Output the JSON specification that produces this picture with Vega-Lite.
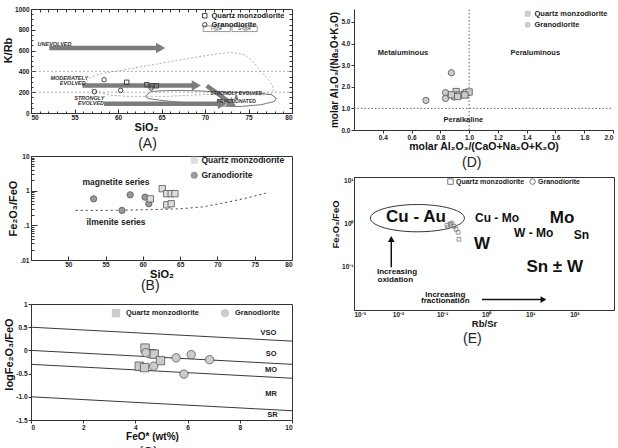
{
  "$schema": "https://vega.github.io/schema/vega-lite/v6.json",
  "padding": {"left": 2, "top": 5, "right": 2, "bottom": 0},
  "spacing": 36,
  "resolve": {"scale": {"shape": "independent", "fill": "independent"}},
  "datasets": {
    "ptsA": [
      {"x": 61.0, "y": 295, "rock": "Quartz monzodiorite"},
      {"x": 63.3, "y": 272, "rock": "Quartz monzodiorite"},
      {"x": 63.9, "y": 262, "rock": "Quartz monzodiorite"},
      {"x": 64.4, "y": 262, "rock": "Quartz monzodiorite"},
      {"x": 58.4, "y": 320, "rock": "Granodiorite"},
      {"x": 57.3, "y": 205, "rock": "Granodiorite"},
      {"x": 60.3, "y": 217, "rock": "Granodiorite"},
      {"x": 63.8, "y": 240, "rock": "Granodiorite"}
    ],
    "levelsA": [{"x": 50, "x2": 80, "y": 200}, {"x": 50, "x2": 80, "y": 400}],
    "fieldS": [
      {"i": 1, "x": 56.44, "y": 304}, {"i": 2, "x": 56.9, "y": 346}, {"i": 3, "x": 58.05, "y": 378},
      {"i": 4, "x": 61.89, "y": 432}, {"i": 5, "x": 65.72, "y": 490}, {"i": 6, "x": 69.56, "y": 545},
      {"i": 7, "x": 71.48, "y": 570}, {"i": 8, "x": 73.02, "y": 583}, {"i": 9, "x": 74.55, "y": 561},
      {"i": 10, "x": 75.32, "y": 512}, {"i": 11, "x": 76.47, "y": 400}, {"i": 12, "x": 77.43, "y": 304},
      {"i": 13, "x": 77.93, "y": 230}, {"i": 14, "x": 77.7, "y": 186}, {"i": 15, "x": 76.47, "y": 173},
      {"i": 16, "x": 73.4, "y": 186}, {"i": 17, "x": 69.56, "y": 176}, {"i": 18, "x": 65.72, "y": 160},
      {"i": 19, "x": 63.03, "y": 160}, {"i": 20, "x": 61.11, "y": 160}, {"i": 21, "x": 59.2, "y": 170},
      {"i": 22, "x": 57.67, "y": 198}, {"i": 23, "x": 56.6, "y": 256}, {"i": 24, "x": 56.44, "y": 304}
    ],
    "fieldI": [
      {"i": 1, "x": 63.12, "y": 160}, {"i": 2, "x": 63.6, "y": 192}, {"i": 3, "x": 63.81, "y": 208},
      {"i": 4, "x": 65.5, "y": 215}, {"i": 5, "x": 67.26, "y": 217}, {"i": 6, "x": 69.5, "y": 212},
      {"i": 7, "x": 71.48, "y": 202}, {"i": 8, "x": 74.0, "y": 196}, {"i": 9, "x": 76.09, "y": 192},
      {"i": 10, "x": 77.62, "y": 176}, {"i": 11, "x": 78.19, "y": 144}, {"i": 12, "x": 78.0, "y": 112},
      {"i": 13, "x": 76.47, "y": 80}, {"i": 14, "x": 74.17, "y": 63}, {"i": 15, "x": 73.0, "y": 63},
      {"i": 16, "x": 71.48, "y": 70}, {"i": 17, "x": 68.03, "y": 96}, {"i": 18, "x": 64.96, "y": 121},
      {"i": 19, "x": 63.43, "y": 140}, {"i": 20, "x": 63.12, "y": 160}
    ],
    "arrowsA": [
      {"x": 52.1, "y": 625, "x2": 64.9, "y2": 625},
      {"x": 55.9, "y": 265, "x2": 69.0, "y2": 265},
      {"x": 58.4, "y": 89, "x2": 72.0, "y2": 89}
    ],
    "headsA": [{"x": 64.9, "y": 625}, {"x": 69.0, "y": 265}, {"x": 72.0, "y": 89}],
    "diagA": [{"x": 70.2, "y": 262, "x2": 73.13, "y2": 86}],
    "diagHeadA": [{"x": 73.13, "y": 86}],
    "labA": [
      {"x": 52.7, "y": 660, "t": "UNEVOLVED"},
      {"x": 54.4, "y": 335, "t": "MODERATELY"},
      {"x": 54.8, "y": 290, "t": "EVOLVED"},
      {"x": 56.7, "y": 142, "t": "STRONGLY"},
      {"x": 56.9, "y": 100, "t": "EVOLVED"}
    ],
    "labA2": [
      {"x": 73.6, "y": 190, "t": "STRONGLY EVOLVED"},
      {"x": 73.6, "y": 150, "t": "&"},
      {"x": 73.6, "y": 112, "t": "FRACTIONATED"}
    ],
    "typeBoxA": [{"x": 69.8, "x2": 72.9, "y": 783, "y2": 837}, {"x": 73.1, "x2": 76.0, "y": 783, "y2": 837}],
    "typeTextA": [{"x": 71.35, "y": 810, "t": "I-type"}, {"x": 74.55, "y": 810, "t": "S-type"}],
    "ptsB": [
      {"x": 53.4, "y": 0.58, "rock": "Granodiorite"},
      {"x": 58.3, "y": 0.76, "rock": "Granodiorite"},
      {"x": 57.2, "y": 0.27, "rock": "Granodiorite"},
      {"x": 60.3, "y": 0.65, "rock": "Granodiorite"},
      {"x": 60.8, "y": 0.42, "rock": "Granodiorite"},
      {"x": 61.0, "y": 0.58, "rock": "Quartz monzodiorite"},
      {"x": 62.6, "y": 1.14, "rock": "Quartz monzodiorite"},
      {"x": 63.2, "y": 0.82, "rock": "Quartz monzodiorite"},
      {"x": 63.8, "y": 0.82, "rock": "Quartz monzodiorite"},
      {"x": 64.3, "y": 0.82, "rock": "Quartz monzodiorite"},
      {"x": 63.2, "y": 0.39, "rock": "Quartz monzodiorite"},
      {"x": 63.8, "y": 0.42, "rock": "Quartz monzodiorite"}
    ],
    "curveB": [
      {"i": 1, "x": 51, "y": 0.27}, {"i": 2, "x": 55, "y": 0.27}, {"i": 3, "x": 60, "y": 0.28},
      {"i": 4, "x": 65, "y": 0.3}, {"i": 5, "x": 68, "y": 0.34}, {"i": 6, "x": 71, "y": 0.45},
      {"i": 7, "x": 74, "y": 0.62}, {"i": 8, "x": 76.5, "y": 0.85}
    ],
    "labB": [{"x": 56.4, "y": 1.74, "t": "magnetite series"}, {"x": 56.4, "y": 0.127, "t": "ilmenite series"}],
    "ptsC": [
      {"x": 4.37, "y": 0.05, "rock": "Quartz monzodiorite"},
      {"x": 4.63, "y": -0.07, "rock": "Quartz monzodiorite"},
      {"x": 4.72, "y": -0.08, "rock": "Quartz monzodiorite"},
      {"x": 4.96, "y": -0.22, "rock": "Quartz monzodiorite"},
      {"x": 4.15, "y": -0.34, "rock": "Quartz monzodiorite"},
      {"x": 4.35, "y": -0.37, "rock": "Quartz monzodiorite"},
      {"x": 4.4, "y": -0.05, "rock": "Granodiorite"},
      {"x": 4.7, "y": -0.34, "rock": "Granodiorite"},
      {"x": 5.56, "y": -0.16, "rock": "Granodiorite"},
      {"x": 6.14, "y": -0.09, "rock": "Granodiorite"},
      {"x": 6.84, "y": -0.2, "rock": "Granodiorite"},
      {"x": 5.86, "y": -0.51, "rock": "Granodiorite"}
    ],
    "linesC": [
      {"x": 0, "y": 0.5, "x2": 10, "y2": 0.2},
      {"x": 0, "y": 0, "x2": 10, "y2": -0.3},
      {"x": 0, "y": -0.3, "x2": 10, "y2": -0.6},
      {"x": 0, "y": -1, "x2": 10, "y2": -1.3}
    ],
    "labC": [
      {"x": 9.1, "y": 0.38, "t": "VSO"}, {"x": 9.2, "y": -0.07, "t": "SO"}, {"x": 9.2, "y": -0.43, "t": "MO"},
      {"x": 9.2, "y": -0.93, "t": "MR"}, {"x": 9.25, "y": -1.39, "t": "SR"}
    ],
    "ptsD": [
      {"x": 0.7, "y": 1.37, "rock": "Granodiorite"},
      {"x": 0.877, "y": 2.65, "rock": "Granodiorite"},
      {"x": 0.836, "y": 1.73, "rock": "Granodiorite"},
      {"x": 0.836, "y": 1.46, "rock": "Granodiorite"},
      {"x": 0.894, "y": 1.53, "rock": "Granodiorite"},
      {"x": 0.963, "y": 1.68, "rock": "Granodiorite"},
      {"x": 0.91, "y": 1.78, "rock": "Quartz monzodiorite"},
      {"x": 0.877, "y": 1.63, "rock": "Quartz monzodiorite"},
      {"x": 0.93, "y": 1.62, "rock": "Quartz monzodiorite"},
      {"x": 0.98, "y": 1.73, "rock": "Quartz monzodiorite"},
      {"x": 1.0, "y": 1.76, "rock": "Quartz monzodiorite"},
      {"x": 0.92, "y": 1.55, "rock": "Quartz monzodiorite"},
      {"x": 0.97, "y": 1.62, "rock": "Quartz monzodiorite"}
    ],
    "guidesD": [{"x": 1, "x2": 1, "y": 0, "y2": 5.6}, {"x": 0.2, "x2": 2.0, "y": 1, "y2": 1}],
    "labD": [
      {"x": 0.54, "y": 3.57, "t": "Metaluminous"},
      {"x": 1.46, "y": 3.57, "t": "Peraluminous"},
      {"x": 0.96, "y": 0.45, "t": "Peralkaline"}
    ],
    "ptsE": [
      {"x": 0.129, "y": 0.93, "rock": "Quartz monzodiorite"},
      {"x": 0.158, "y": 0.99, "rock": "Quartz monzodiorite"},
      {"x": 0.186, "y": 0.88, "rock": "Quartz monzodiorite"},
      {"x": 0.207, "y": 0.75, "rock": "Quartz monzodiorite"},
      {"x": 0.23, "y": 0.64, "rock": "Quartz monzodiorite"},
      {"x": 0.24, "y": 0.44, "rock": "Quartz monzodiorite"},
      {"x": 0.15, "y": 1.02, "rock": "Granodiorite"},
      {"x": 0.17, "y": 1.06, "rock": "Granodiorite"},
      {"x": 0.135, "y": 0.85, "rock": "Granodiorite"}
    ],
    "ellE": [{"x": 0.0275, "y": 1.36}],
    "bigE": [
      {"x": 0.0255, "y": 1.43, "t": "Cu - Au"},
      {"x": 52.5, "y": 1.38, "t": "Mo"},
      {"x": 0.8, "y": 0.343, "t": "W"},
      {"x": 35.8, "y": 0.0986, "t": "Sn ± W"}
    ],
    "midE": [
      {"x": 1.76, "y": 1.38, "t": "Cu - Mo"},
      {"x": 12, "y": 0.61, "t": "W - Mo"},
      {"x": 144, "y": 0.54, "t": "Sn"}
    ],
    "smallE": [
      {"x": 0.00946, "y": 0.0755, "t": "Increasing"},
      {"x": 0.00866, "y": 0.051, "t": "oxidation"},
      {"x": 0.118, "y": 0.0229, "t": "Increasing"},
      {"x": 0.118, "y": 0.016, "t": "fractionation"}
    ],
    "upE": [{"x": 0.00701, "y": 0.0986, "x2": 0.00701, "y2": 0.446}],
    "upHeadE": [{"x": 0.00701, "y": 0.446}],
    "rightE": [{"x": 0.8, "y": 0.0175, "x2": 19.9, "y2": 0.0175}],
    "rightHeadE": [{"x": 19.9, "y": 0.0175}]
  },
  "hconcat": [
    {
      "spacing": 1,
      "resolve": {"scale": {"shape": "independent", "fill": "independent"}},
      "vconcat": [
        {
          "width": 261, "height": 104,
          "title": {"text": "(A)"},
          "resolve": {"axis": {"x": "independent", "y": "independent"}},
          "layer": [
            {
              "encoding": {
                "x": {"field": "x", "type": "quantitative", "title": "SiO₂", "scale": {"domain": [50, 80], "nice": false, "zero": false}, "axis": {"values": [50, 55, 60, 65, 70, 75, 80], "tickSize": -4, "labelPadding": 5, "titleX": 115}},
                "y": {"field": "y", "type": "quantitative", "title": "K/Rb", "scale": {"domain": [0, 1000], "nice": false}, "axis": {"values": [0, 200, 400, 600, 800, 1000], "format": "d", "tickSize": -4, "labelPadding": 6, "titleY": 41}}
              },
              "layer": [
                {"data": {"name": "levelsA"}, "mark": {"type": "rule", "strokeDash": [2, 2], "color": "#999", "strokeWidth": 0.8}, "encoding": {"x2": {"field": "x2"}}},
                {"data": {"name": "fieldS"}, "mark": {"type": "line", "strokeDash": [2, 2], "color": "#999", "strokeWidth": 0.8}, "encoding": {"order": {"field": "i"}}},
                {"data": {"name": "fieldI"}, "mark": {"type": "line", "color": "#666", "strokeWidth": 0.9}, "encoding": {"order": {"field": "i"}}},
                {"data": {"name": "arrowsA"}, "mark": {"type": "rule", "color": "#7d7d7d", "strokeWidth": 4.5}, "encoding": {"x2": {"field": "x2"}, "y2": {"field": "y2"}}},
                {"data": {"name": "headsA"}, "mark": {"type": "point", "shape": "triangle-right", "filled": true, "color": "#7d7d7d", "size": 110, "opacity": 1}},
                {"data": {"name": "diagA"}, "mark": {"type": "rule", "color": "#7d7d7d", "strokeWidth": 4.5}, "encoding": {"x2": {"field": "x2"}, "y2": {"field": "y2"}}},
                {"data": {"name": "diagHeadA"}, "mark": {"type": "point", "shape": "triangle-right", "angle": 36, "filled": true, "color": "#7d7d7d", "size": 110, "opacity": 1}},
                {"data": {"name": "labA"}, "mark": {"type": "text", "fontSize": 5.5, "fontStyle": "italic", "fontWeight": "bold", "color": "#333"}, "encoding": {"text": {"field": "t"}}},
                {"data": {"name": "labA2"}, "mark": {"type": "text", "fontSize": 5, "fontWeight": "bold", "color": "#333"}, "encoding": {"text": {"field": "t"}}},
                {"data": {"name": "typeBoxA"}, "mark": {"type": "rect", "fill": null, "stroke": "#555", "strokeWidth": 0.6}, "encoding": {"x2": {"field": "x2"}, "y2": {"field": "y2"}}},
                {"data": {"name": "typeTextA"}, "mark": {"type": "text", "fontSize": 4.5, "fontWeight": "normal", "color": "#333"}, "encoding": {"text": {"field": "t"}}},
                {"data": {"name": "ptsA"}, "mark": {"type": "point", "filled": false, "color": "#444", "strokeWidth": 1, "size": 20, "opacity": 1},
                 "encoding": {"shape": {"field": "rock", "type": "nominal", "scale": {"domain": ["Quartz monzodiorite", "Granodiorite"], "range": ["square", "circle"]},
                   "legend": {"title": null, "orient": "none", "legendX": 170, "legendY": 3, "labelFontSize": 7.5, "symbolSize": 20, "rowPadding": 0, "padding": 0, "labelOffset": 3, "symbolStrokeWidth": 1}}}}
              ]
            },
            {
              "data": {"name": "ptsA"}, "mark": {"type": "point", "opacity": 0},
              "encoding": {
                "x": {"field": "x", "type": "quantitative", "scale": {"domain": [50, 80], "nice": false, "zero": false}, "axis": {"orient": "bottom", "title": null, "labels": false, "domain": false, "tickSize": -2, "values": [51, 52, 53, 54, 56, 57, 58, 59, 61, 62, 63, 64, 66, 67, 68, 69, 71, 72, 73, 74, 76, 77, 78, 79]}},
                "y": {"field": "y", "type": "quantitative", "scale": {"domain": [0, 1000], "nice": false}, "axis": {"orient": "left", "title": null, "labels": false, "domain": false, "tickSize": -2, "values": [50, 100, 150, 250, 300, 350, 450, 500, 550, 650, 700, 750, 850, 900, 950]}}
              }
            },
            {
              "data": {"name": "ptsA"}, "mark": {"type": "point", "opacity": 0},
              "encoding": {
                "x": {"field": "x", "type": "quantitative", "scale": {"domain": [50, 80], "nice": false, "zero": false}, "axis": {"orient": "top", "title": null, "labels": false, "domain": false, "tickSize": -3, "values": [51, 52, 53, 54, 55, 56, 57, 58, 59, 60, 61, 62, 63, 64, 65, 66, 67, 68, 69, 70, 71, 72, 73, 74, 75, 76, 77, 78, 79]}},
                "y": {"field": "y", "type": "quantitative", "scale": {"domain": [0, 1000], "nice": false}, "axis": {"orient": "right", "title": null, "labels": false, "domain": false, "tickSize": -3, "values": [50, 100, 150, 200, 250, 300, 350, 400, 450, 500, 550, 600, 650, 700, 750, 800, 850, 900, 950]}}
              }
            }
          ]
        },
        {
          "width": 261, "height": 104,
          "title": {"text": "(B)", "offset": -1, "subtitle": " ", "subtitleFontSize": 6, "subtitlePadding": 0},
          "resolve": {"axis": {"y": "independent"}},
          "layer": [
            {
              "encoding": {
                "x": {"field": "x", "type": "quantitative", "title": "SiO₂", "scale": {"domain": [45, 80], "nice": false, "zero": false}, "axis": {"values": [50, 55, 60, 65, 70, 75, 80], "tickSize": -4, "labelPadding": 5}},
                "y": {"field": "y", "type": "quantitative", "title": "Fe₂O₃/FeO", "scale": {"type": "log", "domain": [0.01, 10], "nice": false}, "axis": {"values": [0.01, 0.1, 1, 10], "tickSize": -6, "labelPadding": 8, "labelExpr": "datum.value >= 9 ? '10' : datum.value >= 0.9 ? '1' : datum.value >= 0.09 ? '.1' : '.01'"}}
              },
              "layer": [
                {"data": {"name": "curveB"}, "mark": {"type": "line", "strokeDash": [2, 3], "color": "#444", "strokeWidth": 1}, "encoding": {"order": {"field": "i"}}},
                {"data": {"name": "labB"}, "mark": {"type": "text", "fontSize": 8.5, "fontWeight": "bold", "color": "#222"}, "encoding": {"text": {"field": "t"}}},
                {"data": {"name": "ptsB"}, "mark": {"type": "point", "filled": true, "stroke": "#555", "strokeWidth": 0.8, "size": 40, "opacity": 1},
                 "encoding": {
                   "shape": {"field": "rock", "type": "nominal", "scale": {"domain": ["Quartz monzodiorite", "Granodiorite"], "range": ["square", "circle"]},
                     "legend": {"title": null, "orient": "none", "legendX": 159, "legendY": 0, "labelFontSize": 8.5, "symbolSize": 50, "rowPadding": 4, "padding": 0, "labelOffset": 3, "symbolStrokeColor": "#555", "symbolStrokeWidth": 0.8}},
                   "fill": {"field": "rock", "type": "nominal", "scale": {"domain": ["Quartz monzodiorite", "Granodiorite"], "range": ["#dddddd", "#9a9a9a"]}, "legend": {"title": null, "orient": "none", "legendX": 159, "legendY": 0, "labelFontSize": 8.5, "symbolSize": 50, "rowPadding": 4, "padding": 0, "labelOffset": 3, "symbolStrokeColor": "#555", "symbolStrokeWidth": 0.8}}
                 }}
              ]
            },
            {
              "data": {"name": "ptsB"}, "mark": {"type": "point", "opacity": 0},
              "encoding": {
                "y": {"field": "y", "type": "quantitative", "scale": {"type": "log", "domain": [0.01, 10], "nice": false}, "axis": {"orient": "left", "title": null, "labels": false, "domain": false, "tickSize": -3, "values": [0.02, 0.03, 0.04, 0.05, 0.06, 0.07, 0.08, 0.09, 0.2, 0.3, 0.4, 0.5, 0.6, 0.7, 0.8, 0.9, 2, 3, 4, 5, 6, 7, 8, 9]}}
              }
            }
          ]
        },
        {
          "width": 261, "height": 116,
          "title": {"text": "(C)"},
          "encoding": {
            "x": {"field": "x", "type": "quantitative", "title": "FeO* (wt%)", "scale": {"domain": [0, 10], "nice": false}, "axis": {"values": [0, 2, 4, 6, 8, 10], "titleX": 121, "titleFontSize": 10}},
            "y": {"field": "y", "type": "quantitative", "title": "logFe₂O₃/FeO", "scale": {"domain": [-1.5, 1], "nice": false, "zero": false}, "axis": {"values": [-1.5, -1, -0.5, 0, 0.5, 1], "titleY": 50, "labelExpr": "datum.value == 1 ? '1' : datum.value == 0.5 ? '0.5' : datum.value == 0 ? '0' : datum.value == -0.5 ? '-0.5' : datum.value == -1 ? '-1.0' : '-1.5'"}}
          },
          "layer": [
            {"data": {"name": "linesC"}, "mark": {"type": "rule", "color": "#222", "strokeWidth": 0.9}, "encoding": {"x2": {"field": "x2"}, "y2": {"field": "y2"}}},
            {"data": {"name": "labC"}, "mark": {"type": "text", "fontSize": 7.5, "fontWeight": "bold", "color": "#222"}, "encoding": {"text": {"field": "t"}}},
            {"data": {"name": "ptsC"}, "mark": {"type": "point", "filled": true, "fill": "#cccccc", "stroke": "#555", "strokeWidth": 0.8, "size": 70, "opacity": 1},
             "encoding": {"shape": {"field": "rock", "type": "nominal", "scale": {"domain": ["Quartz monzodiorite", "Granodiorite"], "range": ["square", "circle"]},
               "legend": {"title": null, "orient": "none", "direction": "horizontal", "legendX": 80, "legendY": 4, "labelFontSize": 7.5, "symbolSize": 70, "columnPadding": 20, "padding": 0, "labelOffset": 5, "symbolFillColor": "#cccccc", "symbolStrokeColor": "#555", "symbolStrokeWidth": 0.8}}}}
          ]
        }
      ]
    },
    {
      "spacing": 6,
      "resolve": {"scale": {"shape": "independent", "fill": "independent"}},
      "vconcat": [
        {
          "width": 259, "height": 121,
          "view": {"stroke": null},
          "title": {"text": "(D)"},
          "encoding": {
            "x": {"field": "x", "type": "quantitative", "title": "molar Al₂O₃/(CaO+Na₂O+K₂O)", "scale": {"domain": [0.2, 2.0], "nice": false, "zero": false}, "axis": {"values": [0.4, 0.6, 0.8, 1.0, 1.2, 1.4, 1.6, 1.8, 2.0], "format": ".1f", "titleFontSize": 10.5}},
            "y": {"field": "y", "type": "quantitative", "title": "molar Al₂O₃/(Na₂O+K₂O)", "scale": {"domain": [0, 5.6], "nice": false}, "axis": {"values": [0, 1, 2, 3, 4, 5], "format": ".1f", "titleFontSize": 10}}
          },
          "layer": [
            {"data": {"name": "guidesD"}, "mark": {"type": "rule", "strokeDash": [1.5, 2], "color": "#666", "strokeWidth": 1}, "encoding": {"x2": {"field": "x2"}, "y2": {"field": "y2"}}},
            {"data": {"name": "labD"}, "mark": {"type": "text", "fontSize": 7.5, "fontWeight": "bold", "color": "#222"}, "encoding": {"text": {"field": "t"}}},
            {"data": {"name": "ptsD"}, "mark": {"type": "point", "filled": true, "fill": "#cccccc", "stroke": "#555", "strokeWidth": 0.8, "size": 40, "opacity": 1},
             "encoding": {"shape": {"field": "rock", "type": "nominal", "scale": {"domain": ["Quartz monzodiorite", "Granodiorite"], "range": ["square", "circle"]},
               "legend": {"title": null, "orient": "none", "legendX": 170, "legendY": 1, "labelFontSize": 7.5, "symbolSize": 35, "rowPadding": 1, "padding": 0, "labelOffset": 3, "symbolFillColor": "#cccccc", "symbolStrokeColor": "#555", "symbolStrokeWidth": 0.8}}}}
          ]
        },
        {
          "width": 260, "height": 133,
          "title": {"text": "(E)"},
          "encoding": {
            "x": {"field": "x", "type": "quantitative", "title": "Rb/Sr", "scale": {"type": "log", "domain": [0.001, 794], "nice": false}, "axis": {"values": [0.001, 0.01, 0.1, 1, 10, 100], "ticks": false, "titleFontSize": 9.5, "labelExpr": "datum.value < 0.005 ? '10⁻³' : datum.value < 0.05 ? '10⁻²' : datum.value < 0.5 ? '10⁻¹' : datum.value < 5 ? '10⁰' : datum.value < 50 ? '10¹' : '10²'"}},
            "y": {"field": "y", "type": "quantitative", "title": "Fe₂O₃/FeO", "scale": {"type": "log", "domain": [0.01, 12.3], "nice": false}, "axis": {"values": [0.1, 1, 10], "ticks": false, "titleFontSize": 9.5, "titleY": 47, "labelExpr": "datum.value < 0.5 ? '10⁻¹' : datum.value < 5 ? '10⁰' : '10¹'"}}
          },
          "layer": [
            {"data": {"name": "ellE"}, "mark": {"type": "point", "shape": "M -1 0 A 1 0.29 0 1 0 1 0 A 1 0.29 0 1 0 -1 0 Z", "size": 8836, "filled": false, "color": "#333", "strokeWidth": 1, "opacity": 1}},
            {"data": {"name": "bigE"}, "mark": {"type": "text", "fontSize": 17, "fontWeight": "bold", "color": "#111"}, "encoding": {"text": {"field": "t"}}},
            {"data": {"name": "midE"}, "mark": {"type": "text", "fontSize": 12, "fontWeight": "bold", "color": "#111"}, "encoding": {"text": {"field": "t"}}},
            {"data": {"name": "smallE"}, "mark": {"type": "text", "fontSize": 8, "fontWeight": "bold", "color": "#111"}, "encoding": {"text": {"field": "t"}}},
            {"data": {"name": "upE"}, "mark": {"type": "rule", "color": "#111", "strokeWidth": 1.5}, "encoding": {"x2": {"field": "x2"}, "y2": {"field": "y2"}}},
            {"data": {"name": "upHeadE"}, "mark": {"type": "point", "shape": "triangle-up", "filled": true, "color": "#111", "size": 45, "opacity": 1}},
            {"data": {"name": "rightE"}, "mark": {"type": "rule", "color": "#111", "strokeWidth": 1.5}, "encoding": {"x2": {"field": "x2"}, "y2": {"field": "y2"}}},
            {"data": {"name": "rightHeadE"}, "mark": {"type": "point", "shape": "triangle-right", "filled": true, "color": "#111", "size": 45, "opacity": 1}},
            {"data": {"name": "ptsE"}, "mark": {"type": "point", "filled": false, "color": "#777", "strokeWidth": 0.8, "size": 14, "opacity": 1},
             "encoding": {"shape": {"field": "rock", "type": "nominal", "scale": {"domain": ["Quartz monzodiorite", "Granodiorite"], "range": ["square", "circle"]},
               "legend": {"title": null, "orient": "none", "direction": "horizontal", "legendX": 93, "legendY": 1, "labelFontSize": 7, "symbolSize": 30, "columnPadding": 3, "padding": 0, "labelOffset": 2, "symbolStrokeColor": "#555", "symbolStrokeWidth": 0.8}}}}
          ]
        }
      ]
    }
  ],
  "config": {
    "font": "Liberation Sans",
    "view": {"stroke": "#333", "strokeWidth": 1},
    "axis": {"labelFont": "Liberation Sans", "labelFontSize": 6.5, "labelFontWeight": "bold", "labelColor": "#222", "titleFont": "Liberation Sans", "titleFontSize": 11, "titleFontWeight": "bold", "titleColor": "#111", "domainColor": "#333", "tickColor": "#333", "grid": false, "tickSize": 3, "labelPadding": 1, "titlePadding": 1, "labelOverlap": false},
    "legend": {"labelFont": "Liberation Sans", "labelFontWeight": "bold", "labelColor": "#222"},
    "title": {"font": "Liberation Sans", "fontSize": 14, "fontWeight": "normal", "color": "#222", "orient": "bottom", "frame": "bounds", "anchor": "middle", "offset": 0},
    "text": {"font": "Liberation Sans", "fontWeight": "bold", "baseline": "middle"}
  }
}
